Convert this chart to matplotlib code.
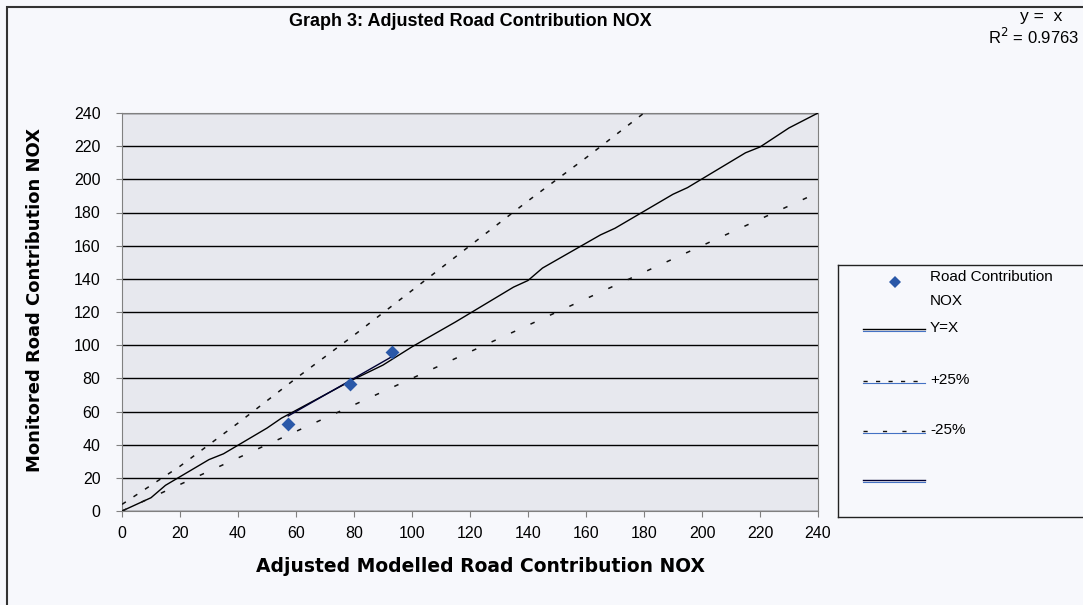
#!/usr/bin/env python3

import matplotlib
matplotlib.use("Agg")
from matplotlib import pyplot as plt
from matplotlib.patches import Rectangle

# measured road contribution points
model_x = [57.3, 78.7, 93.2]
monitor_y = [52.5, 76.6, 95.9]

# hand drawn Y=X reference line (slightly wobbly in the original)
yx_x = [0, 10, 15, 30, 35, 50, 55, 80, 90, 100, 110, 115, 135, 140, 145,
        165, 170, 190, 195, 215, 220, 230, 240]
yx_y = [0, 8, 15.5, 31, 34.5, 50, 56, 79.5, 88, 99, 109, 114, 135, 139, 146.5,
        166.5, 170.5, 191, 195, 216, 219.5, 231, 240]

# +25% and -25% bands
plus_x = [0, 20, 40, 60, 80, 100, 120, 140, 160, 180]
plus_y = [4, 27, 53, 80, 106, 133, 160, 187, 213, 240]
minus_x = [0, 20, 40, 60, 80, 100, 120, 140, 160, 180, 200, 220, 240]
minus_y = [0, 16, 32, 48, 64, 80, 96, 112, 128, 144, 160, 176, 192]

# linear trendline through the points (y = x)
trend_x = [57.3, 93.2]
trend_y = [57.3, 93.2]

ticks = list(range(0, 241, 20))
legend_labels = ["Road Contribution\nNOX", "Y=X", "+25%", "-25%", ""]

W, H = 1083, 605
BG = "#f7f8fc"
PT_BLUE = "#2a58a8"
DASH_PLUS = (0, (3, 6))
DASH_MINUS = (0, (3, 11))


def draw_legend(fig):
    # legend box drawn on its own axes, in pixel units of the figure
    lg = fig.add_axes([838 / W, (H - 517) / H, 300 / W, 252 / H])
    lg.set_xlim(838, 1138)
    lg.set_ylim(517, 265)
    lg.set_facecolor(BG)
    lg.set_xticks([])
    lg.set_yticks([])
    for s in lg.spines.values():
        s.set_color("#222222")
        s.set_linewidth(1)

    lg.plot([895], [282], ls="none", marker="D", ms=6.5, color=PT_BLUE,
            markeredgewidth=0)
    rows = [(329, "black", "-"), (381, "#111111", DASH_PLUS),
            (431, "#111111", DASH_MINUS), (480, "#000033", "-")]
    for y, c, ls in rows:
        lg.plot([863, 925], [y + 2, y + 2], color="#4472c4", lw=0.8)
        lg.plot([863, 925], [y, y], color=c, lw=1, ls=ls)

    kw = dict(ha="left", va="center", fontsize=11, color="black")
    first = legend_labels[0].split("\n")
    lg.text(930, 277, first[0], **kw)
    lg.text(930, 301, first[1], **kw)
    for (y, _, _), lab in zip(rows, legend_labels[1:]):
        if lab:
            lg.text(930, y - 1, lab, **kw)


def main():
    plt.rcParams["font.family"] = ["Liberation Sans", "DejaVu Sans"]
    fig = plt.figure(figsize=(W / 100, H / 100), dpi=100, facecolor=BG)

    # outer chart border (cut off on right and bottom like the original)
    fig.patches.append(Rectangle((7 / W, -0.1), 1.2, 1 - 7 / H + 0.1,
                                 transform=fig.transFigure, fill=False,
                                 edgecolor="#333333", lw=1.5))

    ax = fig.add_axes([122 / W, (H - 511) / H, (818 - 122) / W, (511 - 113) / H])
    ax.set_facecolor("#e7e8ee")

    ax.set_xlim(0, 240)
    ax.set_ylim(0, 240)
    ax.set_xticks(ticks)
    ax.set_yticks(ticks)
    ax.yaxis.grid(True, color="black", lw=1)
    ax.set_axisbelow(True)
    for s in ax.spines.values():
        s.set_color("#808080")
    ax.tick_params(direction="out", length=4.5, color="#808080",
                   labelsize=11.5, labelcolor="black")
    ax.tick_params(axis="x", pad=6)
    ax.tick_params(axis="y", pad=11)

    ax.plot(yx_x, yx_y, color="black", lw=1, zorder=3)
    ax.plot(plus_x, plus_y, color="#111111", lw=1.1, ls=DASH_PLUS, zorder=3)
    ax.plot(minus_x, minus_y, color="#111111", lw=1.1, ls=DASH_MINUS, zorder=3)
    ax.plot(trend_x, trend_y, color="#000033", lw=1, zorder=3)
    ax.scatter(model_x, monitor_y, marker="D", s=50, color=PT_BLUE,
               zorder=4, linewidths=0)

    fig.text(470 / W, 1 - 22 / H, "Graph 3: Adjusted Road Contribution NOX",
             ha="center", va="center", fontsize=13, fontweight="bold")
    lab_kw = dict(ha="center", va="center", fontweight="bold",
                  family=["DejaVu Sans"])
    fig.text(480 / W, 1 - 566 / H, "Adjusted Modelled Road Contribution NOX",
             fontsize=13.5, **lab_kw)
    fig.text(35 / W, 1 - 300 / H, "Monitored Road Contribution NOX",
             rotation=90, fontsize=13, **lab_kw)

    # trendline equation in the top right corner
    fig.text(1020 / W, 1 - 16 / H, "y =  x", ha="left", va="center", fontsize=12.5)
    fig.text(1079 / W, 1 - 37 / H, "R$^2$ = 0.9763", ha="right", va="center",
             fontsize=12)

    draw_legend(fig)

    fig.savefig("out.png", dpi=100, facecolor=BG)


if __name__ == '__main__':
    main()
